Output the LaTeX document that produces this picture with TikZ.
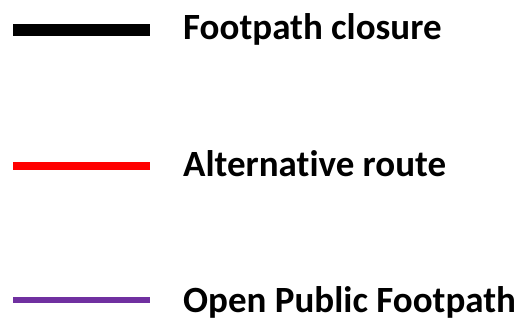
\documentclass[tikz,border=0pt]{standalone}
\usepackage{fontspec}
\setmainfont[Ligatures=NoCommon]{Carlito}
\usepackage{tikz}
\usetikzlibrary{positioning}
\definecolor{footpurple}{HTML}{7030A0}
\begin{document}
\begin{tikzpicture}[
				x=1pt, y=1pt,
				legend line/.style={line cap=butt},
				legend label/.style={anchor=base west, inner sep=0pt, font=\fontsize{37}{42}\selectfont\bfseries}
			]
			\useasboundingbox (0,0) rectangle (522,322);
			% closure
			\coordinate (closure start) at (13,292);
			\coordinate (closure end) at (150,292);
			\draw[legend line, line width=12pt, black] (closure start) -- (closure end);
			\node[legend label] (closure label) at (183,282) {Footpath closure};
			% alternative route
			\coordinate (route start) at (13,156.5);
			\coordinate (route end) at (150,156.5);
			\draw[legend line, line width=8pt, red] (route start) -- (route end);
			\node[legend label] (route label) at (183,146) {Alternative route};
			% open footpath
			\coordinate (open start) at (13,22);
			\coordinate (open end) at (150,22);
			\draw[legend line, line width=6pt, footpurple] (open start) -- (open end);
			\node[legend label] (open label) at (183,10) {Open Public Footpath};
		\end{tikzpicture}
\end{document}
